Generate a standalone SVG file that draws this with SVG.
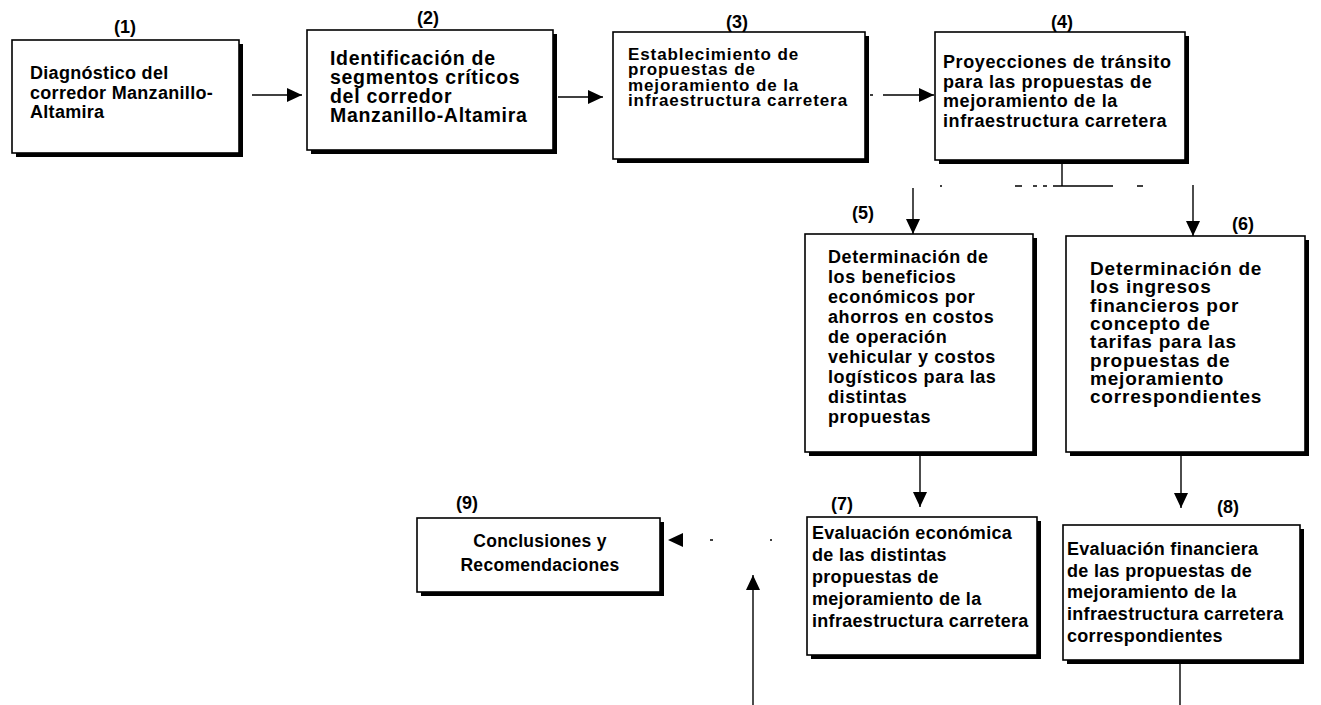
<svg xmlns="http://www.w3.org/2000/svg" width="1321" height="705" viewBox="0 0 1321 705">
  <style>
    .box { fill: #fff; stroke: #000; stroke-width: 1.6; }
    .shadow { fill: #000; }
    .txt { font-family: "Liberation Sans", Arial, Helvetica, sans-serif; font-weight: bold; fill: #000; }
    .num { font-family: "Liberation Sans", Arial, Helvetica, sans-serif; font-weight: bold; font-size: 18px; fill: #000; text-anchor: middle; }
    .link { fill: none; stroke: #000; stroke-width: 1.4; }
    .arrow { marker-end: url(#head); }
  </style>
  <defs>
    <marker id="head" markerUnits="userSpaceOnUse" markerWidth="15" markerHeight="14" refX="15" refY="7" orient="auto">
      <path d="M0,0 L15,7 L0,14 z" fill="#000"/>
    </marker>
  </defs>
  <rect width="1321" height="705" fill="#fff"/>

  <!-- connectors -->
  <g id="connectors">
    <path class="link arrow" d="M252 95 H302"/>
    <path class="link arrow" d="M558 97 H603"/>
    <path class="link arrow" d="M870 95 H934" stroke-dasharray="3 10 100"/>
    <path class="link" d="M1062 163 V186"/>
    <path class="link" d="M913 186 H1193" stroke-dasharray="0 27 2 73 7 11 4 6 4 6 60 24 6 60"/>
    <path class="link arrow" d="M913 188 V234"/>
    <path class="link arrow" d="M1193 185 V236"/>
    <path class="link arrow" d="M920 456 V507"/>
    <path class="link arrow" d="M1181 456 V508"/>
    <path class="link" d="M1180 664 V705"/>
    <path class="link arrow" d="M753 705 V575"/>
    <path class="link arrow" d="M805 540 H668" stroke-dasharray="0 33 2 57 3 60"/>
  </g>

  <!-- (1) -->
  <g id="node1">
    <text class="num" x="125" y="33">(1)</text>
    <rect class="shadow" x="16" y="44" width="227" height="113"/>
    <rect class="box" x="12" y="40" width="227" height="113"/>
    <text class="txt" font-size="18" letter-spacing="0.3"><tspan x="30" y="79">Diagnóstico del</tspan><tspan x="30" y="99">corredor Manzanillo-</tspan><tspan x="30" y="118">Altamira</tspan></text>
  </g>

  <!-- (2) -->
  <g id="node2">
    <text class="num" x="428" y="24">(2)</text>
    <rect class="shadow" x="311" y="34" width="246" height="120"/>
    <rect class="box" x="307" y="30" width="246" height="120"/>
    <text class="txt" font-size="19.5" letter-spacing="0.7"><tspan x="330" y="65">Identificación de</tspan><tspan x="330" y="84">segmentos críticos</tspan><tspan x="330" y="103">del corredor</tspan><tspan x="330" y="122">Manzanillo-Altamira</tspan></text>
  </g>

  <!-- (3) -->
  <g id="node3">
    <text class="num" x="737" y="28">(3)</text>
    <rect class="shadow" x="617" y="36" width="252" height="127"/>
    <rect class="box" x="613" y="32" width="252" height="127"/>
    <text class="txt" font-size="17" letter-spacing="0.9"><tspan x="628" y="59.5">Establecimiento de</tspan><tspan x="628" y="75">propuestas de</tspan><tspan x="628" y="90.5">mejoramiento de la</tspan><tspan x="628" y="106">infraestructura carretera</tspan></text>
  </g>

  <!-- (4) -->
  <g id="node4">
    <text class="num" x="1062" y="28">(4)</text>
    <rect class="shadow" x="939" y="36" width="250" height="128"/>
    <rect class="box" x="935" y="32" width="250" height="128"/>
    <text class="txt" font-size="18" letter-spacing="0.6"><tspan x="943" y="68">Proyecciones de tránsito</tspan><tspan x="943" y="88">para las propuestas de</tspan><tspan x="943" y="107">mejoramiento de la</tspan><tspan x="943" y="127">infraestructura carretera</tspan></text>
  </g>

  <!-- (5) -->
  <g id="node5">
    <text class="num" x="863" y="219">(5)</text>
    <rect class="shadow" x="809" y="238" width="228" height="218"/>
    <rect class="box" x="805" y="234" width="228" height="218"/>
    <text class="txt" font-size="18" letter-spacing="0.6"><tspan x="828" y="263">Determinación de</tspan><tspan x="828" y="283">los beneficios</tspan><tspan x="828" y="303">económicos por</tspan><tspan x="828" y="323">ahorros en costos</tspan><tspan x="828" y="343">de operación</tspan><tspan x="828" y="363">vehicular y costos</tspan><tspan x="828" y="383">logísticos para las</tspan><tspan x="828" y="403">distintas</tspan><tspan x="828" y="423">propuestas</tspan></text>
  </g>

  <!-- (6) -->
  <g id="node6">
    <text class="num" x="1243" y="230">(6)</text>
    <rect class="shadow" x="1070" y="240" width="239" height="216"/>
    <rect class="box" x="1066" y="236" width="239" height="216"/>
    <text class="txt" font-size="19" letter-spacing="0.8"><tspan x="1090" y="275">Determinación de</tspan><tspan x="1090" y="293.3">los ingresos</tspan><tspan x="1090" y="311.6">financieros por</tspan><tspan x="1090" y="330">concepto de</tspan><tspan x="1090" y="348.3">tarifas para las</tspan><tspan x="1090" y="366.6">propuestas de</tspan><tspan x="1090" y="385">mejoramiento</tspan><tspan x="1090" y="403.3">correspondientes</tspan></text>
  </g>

  <!-- (7) -->
  <g id="node7">
    <text class="num" x="842" y="510">(7)</text>
    <rect class="shadow" x="811" y="521" width="230" height="138"/>
    <rect class="box" x="807" y="517" width="230" height="138"/>
    <text class="txt" font-size="18" letter-spacing="0.3"><tspan x="812" y="539">Evaluación económica</tspan><tspan x="812" y="561">de las distintas</tspan><tspan x="812" y="583">propuestas de</tspan><tspan x="812" y="605">mejoramiento de la</tspan><tspan x="812" y="627">infraestructura carretera</tspan></text>
  </g>

  <!-- (8) -->
  <g id="node8">
    <text class="num" x="1228" y="513">(8)</text>
    <rect class="shadow" x="1067" y="529" width="237" height="135"/>
    <rect class="box" x="1063" y="525" width="237" height="135"/>
    <text class="txt" font-size="18" letter-spacing="0.3"><tspan x="1067" y="555">Evaluación financiera</tspan><tspan x="1067" y="577">de las propuestas de</tspan><tspan x="1067" y="598">mejoramiento de la</tspan><tspan x="1067" y="620">infraestructura carretera</tspan><tspan x="1067" y="642">correspondientes</tspan></text>
  </g>

  <!-- (9) -->
  <g id="node9">
    <text class="num" x="467" y="509">(9)</text>
    <rect class="shadow" x="421" y="522" width="243" height="74"/>
    <rect class="box" x="417" y="518" width="243" height="74"/>
    <text class="txt" font-size="17.5" letter-spacing="0.3" text-anchor="middle"><tspan x="540" y="547">Conclusiones y</tspan><tspan x="540" y="571">Recomendaciones</tspan></text>
  </g>
</svg>
